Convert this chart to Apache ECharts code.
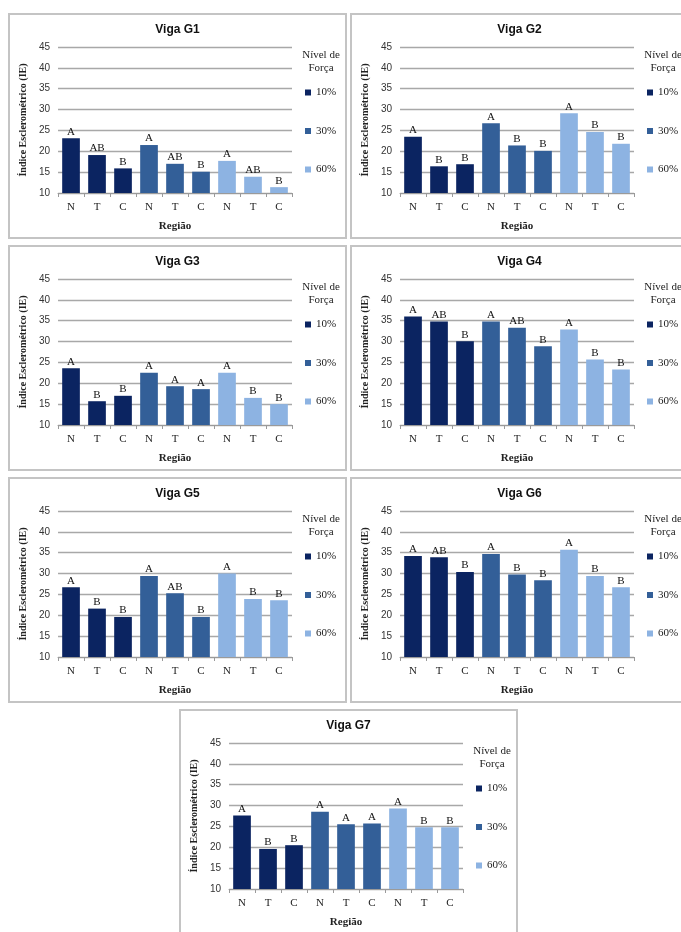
<!DOCTYPE html>
<html>
<head>
<meta charset="utf-8">
<script src="https://cdn.jsdelivr.net/npm/echarts@6/dist/echarts.min.js"></script>
<style>
  html, body { margin: 0; padding: 0; background: #ffffff; width: 681px; height: 932px; overflow: hidden; }
  .panel { position: absolute; box-sizing: border-box; width: 339px; height: 226px; border: 2px solid #c4c4c4; background: #fff; }
  .chart { width: 335px; height: 222px; }
</style>
</head>
<body>
<div id="p1" class="panel" style="left:8px; top:13px;"><div id="c1" class="chart"></div></div>
<div id="p2" class="panel" style="left:350px; top:13px;"><div id="c2" class="chart"></div></div>
<div id="p3" class="panel" style="left:8px; top:245px;"><div id="c3" class="chart"></div></div>
<div id="p4" class="panel" style="left:350px; top:245px;"><div id="c4" class="chart"></div></div>
<div id="p5" class="panel" style="left:8px; top:477px;"><div id="c5" class="chart"></div></div>
<div id="p6" class="panel" style="left:350px; top:477px;"><div id="c6" class="chart"></div></div>
<div id="p7" class="panel" style="left:179px; top:709px;"><div id="c7" class="chart"></div></div>
<script>
// ---- data ----
const regions = ['N', 'T', 'C'];
const levels = ['10%', '30%', '60%'];
const yTicks = [10, 15, 20, 25, 30, 35, 40, 45];

const titles = ['Viga G1', 'Viga G2', 'Viga G3', 'Viga G4', 'Viga G5', 'Viga G6', 'Viga G7'];

// values in order: N,T,C for 10%, then 30%, then 60%
const valuesG1 = [23.1, 19.1, 15.9, 21.5, 17.0, 15.1, 17.7, 13.9, 11.4];
const valuesG2 = [23.5, 16.4, 16.9, 26.7, 21.4, 20.1, 29.1, 24.6, 21.8];
const valuesG3 = [23.6, 15.7, 17.0, 22.5, 19.3, 18.6, 22.5, 16.5, 15.0];
const valuesG4 = [36.0, 34.8, 30.1, 34.8, 33.3, 28.9, 32.9, 25.7, 23.3];
const valuesG5 = [26.7, 21.6, 19.6, 29.4, 25.3, 19.6, 30.0, 23.9, 23.6];
const valuesG6 = [34.2, 33.9, 30.4, 34.7, 29.8, 28.4, 35.7, 29.4, 26.7];
const valuesG7 = [27.6, 19.6, 20.5, 28.5, 25.5, 25.7, 29.3, 24.8, 24.8];

const lettersG1 = ['A', 'AB', 'B', 'A', 'AB', 'B', 'A', 'AB', 'B'];
const lettersG2 = ['A', 'B', 'B', 'A', 'B', 'B', 'A', 'B', 'B'];
const lettersG3 = ['A', 'B', 'B', 'A', 'A', 'A', 'A', 'B', 'B'];
const lettersG4 = ['A', 'AB', 'B', 'A', 'AB', 'B', 'A', 'B', 'B'];
const lettersG5 = ['A', 'B', 'B', 'A', 'AB', 'B', 'A', 'B', 'B'];
const lettersG6 = ['A', 'AB', 'B', 'A', 'B', 'B', 'A', 'B', 'B'];
const lettersG7 = ['A', 'B', 'B', 'A', 'A', 'A', 'A', 'B', 'B'];

const allValues = [valuesG1, valuesG2, valuesG3, valuesG4, valuesG5, valuesG6, valuesG7];
const allLetters = [lettersG1, lettersG2, lettersG3, lettersG4, lettersG5, lettersG6, lettersG7];

const colors = ['#0b2461', '#335f98', '#8db3e2'];

// ---- build ----
const categories = [];
levels.forEach(() => regions.forEach(r => categories.push(r)));

const serif = '"Liberation Serif", "DejaVu Serif", serif';
const sans = '"Liberation Sans", "DejaVu Sans", sans-serif';

function buildOption(idx) {
  const vals = allValues[idx];
  const lets = allLetters[idx];
  const series = levels.map((lv, li) => {
    const data = vals.map((v, i) => (Math.floor(i / regions.length) === li ? v : '-'));
    return {
      name: lv,
      type: 'bar',
      data: data,
      barGap: '-100%',
      barCategoryGap: '32%',
      itemStyle: { color: colors[li] },
      label: {
        show: true,
        position: 'top',
        distance: 1,
        fontFamily: serif,
        fontSize: 11,
        color: '#111',
        formatter: p => lets[p.dataIndex]
      },
      emphasis: { disabled: true },
      animation: false
    };
  });
  return {
    animation: false,
    title: [
      {
        text: titles[idx],
        left: 'center',
        top: 4,
        textStyle: { fontFamily: sans, fontSize: 12, fontWeight: 'bold', color: '#111' }
      },
      {
        text: 'Nível de\nForça',
        left: 306,
        top: 29,
        textAlign: 'center',
        textStyle: { fontFamily: serif, fontSize: 11, fontWeight: 'normal', color: '#222', lineHeight: 13 }
      }
    ],
    legend: {
      orient: 'vertical',
      left: 290,
      top: 67,
      itemWidth: 6,
      itemHeight: 6,
      itemGap: 27.5,
      icon: 'rect',
      data: levels,
      textStyle: { fontFamily: serif, fontSize: 11, color: '#222' },
      selectedMode: false
    },
    grid: { left: 48, top: 32, width: 234, height: 146, containLabel: false },
    xAxis: {
      type: 'category',
      data: categories,
      name: 'Região',
      nameLocation: 'middle',
      nameGap: 28,
      nameTextStyle: { fontFamily: serif, fontSize: 11, fontWeight: 'bold', color: '#222' },
      axisLine: { lineStyle: { color: '#9a9a9a', width: 1 } },
      axisTick: { show: true, length: 4, lineStyle: { color: '#9a9a9a' } },
      axisLabel: { fontFamily: serif, fontSize: 11, color: '#222', margin: 9 }
    },
    yAxis: {
      type: 'value',
      min: 10,
      max: 45,
      interval: 5,
      name: 'Índice Esclerométrico (IE)',
      nameLocation: 'middle',
      nameGap: 20,
      nameTextStyle: { fontFamily: serif, fontSize: 10, fontWeight: 'bold', color: '#222' },
      axisLine: { show: false },
      axisTick: { show: false },
      axisLabel: {
        fontFamily: sans, fontSize: 10, color: '#333', margin: 8,
        formatter: v => (yTicks.indexOf(v) >= 0 ? String(v) : '')
      },
      splitLine: { lineStyle: { color: '#a8a8a8', width: 1.3 } }
    },
    series: series
  };
}

for (let i = 0; i < 7; i++) {
  const chart = echarts.init(document.getElementById('c' + (i + 1)), null, { renderer: 'canvas' });
  chart.setOption(buildOption(i));
}
</script>
</body>
</html>
